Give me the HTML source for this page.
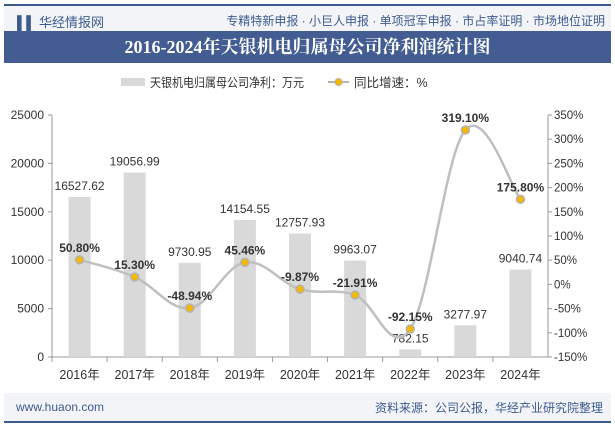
<!DOCTYPE html>
<html><head><meta charset="utf-8"><style>
body{margin:0;width:615px;height:427px;background:#fff;font-family:"Liberation Sans","Noto Sans CJK SC",sans-serif;overflow:hidden;position:relative}
.hdr{position:absolute;left:4px;top:4px;width:607px;height:27px;background:#f3f4f8;border-top:2px solid #3d5a8f}
.title{position:absolute;left:4px;top:31px;width:607px;height:32px;background:#435d93;color:#fff;font:bold 18px "Liberation Serif","Noto Serif CJK SC",serif;text-align:center;line-height:32px}
.ftr{position:absolute;left:4px;top:393px;width:607px;height:28px;background:#f3f4f8;border-bottom:2px solid #3d5a8f}
</style></head><body>
<div class="hdr">
<span style="position:absolute;left:13px;top:6px;font-size:13px;color:#3d5a8f">▌▌ 华经情报网</span>
<span style="position:absolute;right:6px;top:6px;font-size:12px;color:#3d5a8f">专精特新申报 · 小巨人申报 · 单项冠军申报 · 市占率证明 · 市场地位证明</span>
</div>
<div class="title">2016-2024年天银机电归属母公司净利润统计图</div>
<div class="ftr">
<span style="position:absolute;left:12px;top:7px;font-size:12px;color:#3d5a8f">www.huaon.com</span>
<span style="position:absolute;right:8px;top:6px;font-size:12px;color:#3d5a8f">资料来源：公司公报，华经产业研究院整理</span>
</div>
<svg id="chart" width="615" height="427" style="position:absolute;left:0;top:0" font-family="Liberation Sans, Noto Sans CJK SC, sans-serif"></svg>
<script>
const years=["2016年","2017年","2018年","2019年","2020年","2021年","2022年","2023年","2024年"];
const profit=[16527.62,19056.99,9730.95,14154.55,12757.93,9963.07,782.15,3277.97,9040.74];
const growth=[50.80,15.30,-48.94,45.46,-9.87,-21.91,-92.15,319.10,175.80];
const leftTicks=[0,5000,10000,15000,20000,25000];
const rightTicks=[-150,-100,-50,0,50,100,150,200,250,300,350];
const NS="http://www.w3.org/2000/svg";
const svg=document.getElementById('chart');
const X0=52,X1=548,Y0=357,Y1=115;
const bw=(X1-X0)/years.length;
const xc=i=>X0+bw*(i+0.5);
const yl=v=>Y0-(v/25000)*(Y0-Y1);
const yr=v=>Y0-((v+150)/500)*(Y0-Y1);
function mk(t,a,txt){const e=document.createElementNS(NS,t);for(const k in a)e.setAttribute(k,a[k]);if(txt!=null)e.textContent=txt;svg.appendChild(e);return e;}
// legend
let e=mk('rect',{x:121,y:78,width:24,height:8,fill:'#d9d9d9'});

e=mk('text',{x:150,y:87,'font-size':12.5,fill:'#333',textLength:154,lengthAdjust:'spacingAndGlyphs'},'天银机电归属母公司净利：万元');

e=mk('line',{x1:328,y1:82,x2:349,y2:82,stroke:'#b3b3b3','stroke-width':2});

e=mk('circle',{cx:338.5,cy:82,r:3.5,fill:'#f5b800',stroke:'#b3b3b3'});

e=mk('text',{x:354,y:87,'font-size':12.5,fill:'#333'},'同比增速：%');

// axes
e=mk('line',{x1:X0,y1:Y1,x2:X0,y2:Y0,stroke:'#999'});

e=mk('line',{x1:X1,y1:Y1,x2:X1,y2:Y0,stroke:'#999'});

e=mk('line',{x1:X0,y1:Y0,x2:X1,y2:Y0,stroke:'#999'});

leftTicks.forEach(v=>{e=mk('text',{x:X0-8,y:yl(v)+4,'font-size':12,fill:'#333','text-anchor':'end'},v);

mk('line',{x1:X0-4,y1:yl(v),x2:X0,y2:yl(v),stroke:'#999'});});
rightTicks.forEach(v=>{e=mk('text',{x:X1+6,y:yr(v)+4,'font-size':11.5,fill:'#333'},v+'%');

mk('line',{x1:X1,y1:yr(v),x2:X1+4,y2:yr(v),stroke:'#999'});});
years.forEach((y,i)=>{mk('line',{x1:X0+bw*i,y1:Y0,x2:X0+bw*i,y2:Y0+5,stroke:'#999'});
e=mk('text',{x:xc(i),y:Y0+22,'font-size':12.5,fill:'#333','text-anchor':'middle'},y);
});
// bars
profit.forEach((v,i)=>{e=mk('rect',{x:xc(i)-11,y:yl(v),width:22,height:Y0-yl(v),fill:'#d9d9d9'});

e=mk('text',{x:xc(i),y:yl(v)-7,'font-size':12,fill:'#333','text-anchor':'middle'},v.toFixed(2));
});
// smooth line
const pts=growth.map((g,i)=>[xc(i),yr(g)]);
let d='M'+pts[0];
for(let i=0;i<pts.length-1;i++){const p0=pts[i-1]||pts[i],p1=pts[i],p2=pts[i+1],p3=pts[i+2]||p2,t=0.18;
d+=' C'+(p1[0]+(p2[0]-p0[0])*t)+','+(p1[1]+(p2[1]-p0[1])*t)+' '+(p2[0]-(p3[0]-p1[0])*t)+','+(p2[1]-(p3[1]-p1[1])*t)+' '+p2;}
e=mk('path',{d:d,fill:'none',stroke:'#bfbfbf','stroke-width':2.5});

growth.forEach((g,i)=>{e=mk('circle',{cx:xc(i),cy:yr(g),r:4,fill:'#f5b800',stroke:'#b3b3b3','stroke-width':1.5});

e=mk('text',{x:xc(i),y:yr(g)-8,'font-size':12,'font-weight':'bold',fill:'#333','text-anchor':'middle'},g.toFixed(2)+'%');
});
</script>
</body></html>
